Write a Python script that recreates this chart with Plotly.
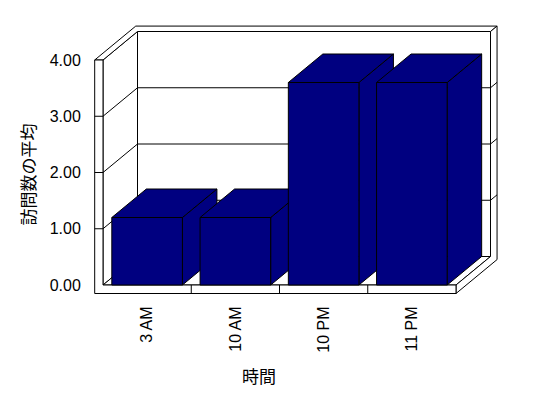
import plotly.graph_objects as go

# ---- data ----
categories = ["3 AM", "10 AM", "10 PM", "11 PM"]
visits_avg = [1.2, 1.2, 3.6, 3.6]
y_ticks = [0, 1, 2, 3, 4]
y_tick_labels = ["0.00", "1.00", "2.00", "3.00", "4.00"]
x_title = "時間"
y_title = "訪問数の平均"

# ---- layout geometry (pixels) ----
W, H = 548, 398
PLOT_L, PLOT_R, PLOT_T, PLOT_B = 93, 502, 22, 296
X0_PX = 103.0      # pixel of front-plane left edge
PX_PER_X = 88.25   # pixels per category
Y0_PX = 285.0      # pixel of value 0 on front plane
PX_PER_Y = 56.25   # pixels per value unit

x_range = [-0.5 - (X0_PX - PLOT_L) / PX_PER_X, -0.5 + (PLOT_R - X0_PX) / PX_PER_X]
y_range = [-(PLOT_B - Y0_PX) / PX_PER_Y, (Y0_PX - PLOT_T) / PX_PER_Y]

DX = 34.5 / PX_PER_X   # depth offset in data units
DY = 28.5 / PX_PER_Y
TX = 8.3 / PX_PER_X    # left wall thickness
TY = 8.5 / PX_PER_Y    # floor thickness
TB = 0.19              # back wall thickness (fraction of depth)
BAR_W = 0.8
NAVY = "#000080"
FONT = "Liberation Sans, Arial, Noto Sans CJK JP"
CJK = "Noto Sans CJK JP"

n = len(categories)
XL, XR = -0.5, n - 0.5
YMAX = y_ticks[-1]


def P(x, y, z):
    return (x + z * DX, y + z * DY)


fig = go.Figure()


def poly(pts, fill):
    xs = [p[0] for p in pts] + [pts[0][0]]
    ys = [p[1] for p in pts] + [pts[0][1]]
    fig.add_trace(go.Scatter(x=xs, y=ys, mode="lines", fill="toself", fillcolor=fill,
                             line=dict(color="black", width=1),
                             hoverinfo="skip", showlegend=False))


def segs(seglist):
    xs, ys = [], []
    for a, b in seglist:
        xs += [a[0], b[0], None]
        ys += [a[1], b[1], None]
    fig.add_trace(go.Scatter(x=xs, y=ys, mode="lines", line=dict(color="black", width=1),
                             hoverinfo="skip", showlegend=False))


# back plane (front face of back wall)
poly([P(XL, 0, 1), P(XR, 0, 1), P(XR, YMAX, 1), P(XL, YMAX, 1)], "white")
# left wall inner face
poly([P(XL, 0, 0), P(XL, YMAX, 0), P(XL, YMAX, 1), P(XL, 0, 1)], "white")
# floor top
poly([P(XL, 0, 0), P(XR, 0, 0), P(XR, 0, 1), P(XL, 0, 1)], "white")
# top rim (left wall top + back wall top)
poly([P(XL - TX, YMAX, 0), P(XL - TX, YMAX, 1 + TB), P(XR, YMAX, 1 + TB),
      P(XR, YMAX, 1), P(XL, YMAX, 1), P(XL, YMAX, 0)], "white")
# right rim (floor side + back wall side)
poly([P(XR, -TY, 0), P(XR, 0, 0), P(XR, 0, 1), P(XR, YMAX, 1),
      P(XR, YMAX, 1 + TB), P(XR, -TY, 1 + TB)], "white")
# front rim (left wall front + floor front)
poly([P(XL - TX, YMAX, 0), P(XL, YMAX, 0), P(XL, 0, 0), P(XR, 0, 0),
      P(XR, -TY, 0), P(XL - TX, -TY, 0)], "white")

# gridlines and dividers
grid = []
for v in y_ticks[1:-1]:
    grid.append((P(XL - TX, v, 0), P(XL, v, 0)))
    grid.append((P(XL, v, 0), P(XL, v, 1)))
    grid.append((P(XL, v, 1), P(XR, v, 1)))
    grid.append((P(XR, v, 1), P(XR, v, 1 + TB)))
for i in range(1, n):
    b = i - 0.5
    grid.append((P(b, 0, 0), P(b, -TY, 0)))
segs(grid)

# bars
for i, v in enumerate(visits_avg):
    x0, x1 = i - BAR_W / 2, i + BAR_W / 2
    poly([P(x1, 0, 0), P(x1, v, 0), P(x1, v, 1), P(x1, 0, 1)], NAVY)
    poly([P(x0, v, 0), P(x1, v, 0), P(x1, v, 1), P(x0, v, 1)], NAVY)
    poly([P(x0, 0, 0), P(x1, 0, 0), P(x1, v, 0), P(x0, v, 0)], NAVY)


def paper_x(px):
    return (px - PLOT_L) / (PLOT_R - PLOT_L)


def paper_y(py):
    return (PLOT_B - py) / (PLOT_B - PLOT_T)


fig.update_layout(
    width=W, height=H, autosize=False,
    margin=dict(l=PLOT_L, r=W - PLOT_R, t=PLOT_T, b=H - PLOT_B, pad=0),
    paper_bgcolor="white", plot_bgcolor="white",
    showlegend=False,
    xaxis=dict(range=x_range, showgrid=False, zeroline=False, showline=False,
               tickvals=list(range(n)), ticktext=categories, tickangle=-90,
               ticks="outside", ticklen=3, tickcolor="rgba(0,0,0,0)",
               tickfont=dict(family=FONT, size=16, color="black"), fixedrange=True),
    yaxis=dict(range=y_range, showgrid=False, zeroline=False, showline=False,
               tickvals=y_ticks, ticktext=y_tick_labels,
               ticks="outside", ticklen=8, tickcolor="rgba(0,0,0,0)",
               tickfont=dict(family=FONT, size=16, color="black"), fixedrange=True),
    annotations=[
        dict(text=x_title, xref="paper", yref="paper", x=paper_x(259), y=paper_y(375),
             xanchor="center", yanchor="middle", showarrow=False,
             font=dict(family=CJK, size=17, color="black")),
        dict(text=y_title, xref="paper", yref="paper", x=paper_x(27.5), y=paper_y(175),
             xanchor="center", yanchor="middle", showarrow=False, textangle=-90,
             font=dict(family=CJK, size=17, color="black")),
    ],
)

fig.write_html("out.html")
